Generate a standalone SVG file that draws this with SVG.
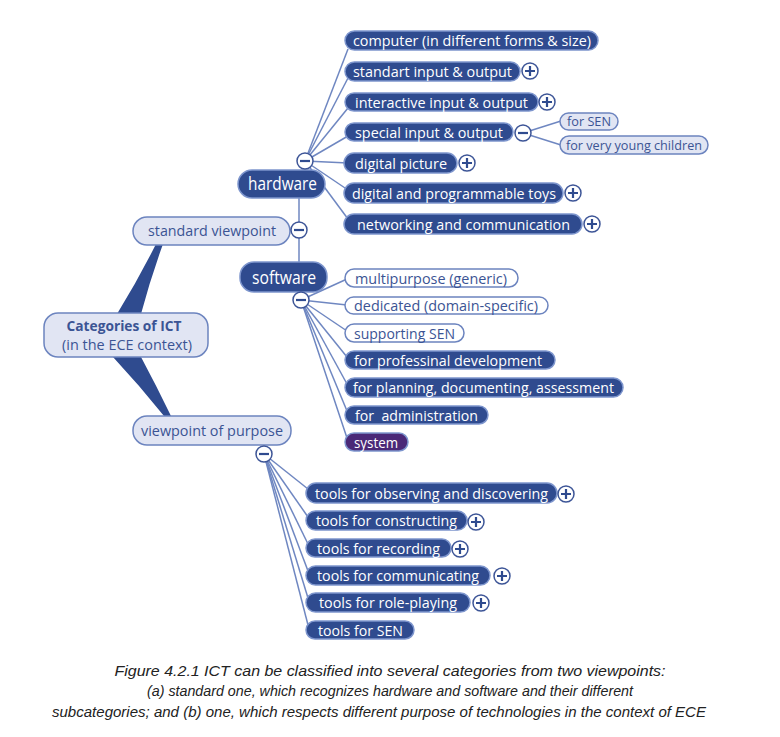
<svg xmlns="http://www.w3.org/2000/svg" width="780" height="737" viewBox="0 0 780 737">
<style>
text{font-family:"Open Sans","Noto Sans","Liberation Sans",sans-serif;}
.dk rect{fill:#2F4B8F;stroke:#7D95CD;stroke-width:1.5;}
.dk text{fill:#ffffff;font-size:15px;}
.lt rect{fill:#E1E5F3;stroke:#6C84BF;stroke-width:1.5;}
.lt text{fill:#3B5494;font-size:15px;}
.wh rect{fill:#ffffff;stroke:#6C84BF;stroke-width:1.5;}
.wh text{fill:#3B5494;font-size:15px;}
.pu rect{fill:#4A2877;stroke:#7D95CD;stroke-width:1.5;}
.pu text{fill:#ffffff;font-size:15px;}
.dk.big text{font-size:18px;}
.con line{stroke:#6F87C1;stroke-width:1.5;fill:none;}
.wedge{fill:#2F4B8F;}
.tgc{fill:#ffffff;stroke:#3D5597;stroke-width:1.5;}
.tgp{stroke:#2F4B8F;stroke-width:2.2;fill:none;}
.cap{font-family:"Liberation Sans",sans-serif;font-style:italic;font-size:14px;fill:#222222;}
</style>
<defs>
<g id="plus"><circle class="tgc" r="8"/><path class="tgp" d="M-5,0H5M0,-5V5"/></g>
<g id="minus"><circle class="tgc" r="8"/><path class="tgp" d="M-5,0H5"/></g>
</defs>
<rect width="780" height="737" fill="#ffffff"/>
<g id="connectors" class="con">
<path class="wedge" d="M117,314 Q138,280 156,244 L163,244 Q150,280 141,314 Z"/>
<path class="wedge" d="M113,357 L141,357 Q156,385 171,416 L164,416 Q140,386 113,357 Z"/>
<line x1="299" y1="197" x2="299" y2="263"/>
<line x1="305" y1="161" x2="348" y2="49"/>
<line x1="305" y1="161" x2="348" y2="78"/>
<line x1="305" y1="161" x2="348" y2="108"/>
<line x1="305" y1="161" x2="348" y2="136"/>
<line x1="305" y1="161" x2="348" y2="163"/>
<line x1="305" y1="161" x2="348" y2="190"/>
<line x1="305" y1="161" x2="348" y2="219"/>
<line x1="523" y1="133" x2="561" y2="121"/>
<line x1="523" y1="133" x2="561" y2="145"/>
<line x1="301" y1="300" x2="347" y2="279"/>
<line x1="301" y1="300" x2="347" y2="305"/>
<line x1="301" y1="300" x2="347" y2="331"/>
<line x1="301" y1="300" x2="347" y2="357"/>
<line x1="301" y1="300" x2="347" y2="384"/>
<line x1="301" y1="300" x2="347" y2="411"/>
<line x1="301" y1="300" x2="347" y2="438"/>
<line x1="264" y1="454" x2="308" y2="489"/>
<line x1="264" y1="454" x2="308" y2="517"/>
<line x1="264" y1="454" x2="308" y2="544"/>
<line x1="264" y1="454" x2="308" y2="571"/>
<line x1="264" y1="454" x2="308" y2="598"/>
<line x1="264" y1="454" x2="308" y2="625"/>
</g>
<g id="root" class="lt"><rect x="44" y="313" width="164" height="44" rx="14"/>
<text x="124" y="331" text-anchor="middle" font-weight="bold" textLength="115" lengthAdjust="spacingAndGlyphs">Categories of ICT</text>
<text x="127" y="350" text-anchor="middle" textLength="130" lengthAdjust="spacingAndGlyphs">(in the ECE context)</text></g>
<g id="standard" class="lt"><rect x="133" y="217" width="157" height="28" rx="14"/><text x="148" y="236" textLength="128" lengthAdjust="spacingAndGlyphs">standard viewpoint</text></g>
<g id="purpose" class="lt"><rect x="133" y="416" width="158" height="29" rx="14"/><text x="141" y="435.5" textLength="142" lengthAdjust="spacingAndGlyphs">viewpoint of purpose</text></g>
<g id="hardware" class="dk big"><rect x="238" y="170" width="87" height="28" rx="14"/><text x="248" y="190" textLength="69" lengthAdjust="spacingAndGlyphs">hardware</text></g>
<g id="software" class="dk big"><rect x="240" y="262" width="87" height="30" rx="14"/><text x="252" y="283.5" textLength="64" lengthAdjust="spacingAndGlyphs">software</text></g>
<g id="computer" class="dk"><rect x="345" y="31" width="253" height="19" rx="9.5"/><text x="353" y="45.5" textLength="238" lengthAdjust="spacingAndGlyphs">computer (in different forms &amp; size)</text></g>
<g id="standart" class="dk"><rect x="345" y="62" width="175" height="19" rx="9.5"/><text x="353" y="76.5" textLength="159" lengthAdjust="spacingAndGlyphs">standart input &amp; output</text></g>
<g id="interactive" class="dk"><rect x="345" y="93" width="193" height="18" rx="9"/><text x="355" y="107.5" textLength="173" lengthAdjust="spacingAndGlyphs">interactive input &amp; output</text></g>
<g id="special" class="dk"><rect x="345" y="123" width="168" height="18" rx="9"/><text x="355" y="137.5" textLength="148" lengthAdjust="spacingAndGlyphs">special input &amp; output</text></g>
<g id="forsen" class="lt"><rect x="560" y="113" width="58" height="17" rx="8.5"/><text x="567" y="126" style="font-size:13.5px" textLength="44" lengthAdjust="spacingAndGlyphs">for SEN</text></g>
<g id="young" class="lt"><rect x="560" y="136" width="148" height="18" rx="9"/><text x="566" y="149.5" style="font-size:13.5px" textLength="136" lengthAdjust="spacingAndGlyphs">for very young children</text></g>
<g id="picture" class="dk"><rect x="344" y="153" width="113" height="20" rx="10"/><text x="355" y="168.5" textLength="92" lengthAdjust="spacingAndGlyphs">digital picture</text></g>
<g id="toys" class="dk"><rect x="344" y="183" width="219" height="20" rx="10"/><text x="352" y="198.5" textLength="204" lengthAdjust="spacingAndGlyphs">digital and programmable toys</text></g>
<g id="networking" class="dk"><rect x="344" y="214" width="238" height="20" rx="10"/><text x="357" y="229.5" textLength="213" lengthAdjust="spacingAndGlyphs">networking and communication</text></g>
<g id="multipurpose" class="wh"><rect x="345" y="269" width="173" height="18" rx="9"/><text x="355" y="283.5" textLength="152" lengthAdjust="spacingAndGlyphs">multipurpose (generic)</text></g>
<g id="dedicated" class="wh"><rect x="345" y="297" width="203" height="17" rx="8.5"/><text x="354" y="311" textLength="184" lengthAdjust="spacingAndGlyphs">dedicated (domain-specific)</text></g>
<g id="supporting" class="wh"><rect x="345" y="324" width="119" height="18" rx="9"/><text x="354" y="338.5" textLength="101" lengthAdjust="spacingAndGlyphs">supporting SEN</text></g>
<g id="professinal" class="dk"><rect x="345" y="351" width="210" height="18" rx="9"/><text x="354" y="365.5" textLength="188" lengthAdjust="spacingAndGlyphs">for professinal development</text></g>
<g id="planning" class="dk"><rect x="345" y="378" width="278" height="19" rx="9.5"/><text x="353" y="393" textLength="261" lengthAdjust="spacingAndGlyphs">for planning, documenting, assessment</text></g>
<g id="administration" class="dk"><rect x="345" y="406" width="143" height="18" rx="9"/><text x="355" y="420.5" textLength="123" lengthAdjust="spacingAndGlyphs" xml:space="preserve">for  administration</text></g>
<g id="system" class="pu"><rect x="345" y="433" width="63" height="18" rx="9"/><text x="354" y="447.5" textLength="44" lengthAdjust="spacingAndGlyphs">system</text></g>
<g id="observing" class="dk"><rect x="306" y="483" width="251" height="20" rx="10"/><text x="315" y="498.5" textLength="233" lengthAdjust="spacingAndGlyphs">tools for observing and discovering</text></g>
<g id="constructing" class="dk"><rect x="306" y="511" width="161" height="19" rx="9.5"/><text x="316" y="526" textLength="141" lengthAdjust="spacingAndGlyphs">tools for constructing</text></g>
<g id="recording" class="dk"><rect x="306" y="539" width="145" height="18" rx="9"/><text x="317" y="553.5" textLength="123" lengthAdjust="spacingAndGlyphs">tools for recording</text></g>
<g id="communicating" class="dk"><rect x="306" y="566" width="184" height="19" rx="9.5"/><text x="317" y="581" textLength="162" lengthAdjust="spacingAndGlyphs">tools for communicating</text></g>
<g id="roleplaying" class="dk"><rect x="306" y="593" width="164" height="19" rx="9.5"/><text x="319" y="608" textLength="138" lengthAdjust="spacingAndGlyphs">tools for role-playing</text></g>
<g id="toolssen" class="dk"><rect x="306" y="621" width="108" height="18" rx="9"/><text x="318" y="635.5" textLength="85" lengthAdjust="spacingAndGlyphs">tools for SEN</text></g>
<g id="toggles">
<use href="#minus" x="305" y="161"/>
<use href="#minus" x="299" y="230"/>
<use href="#minus" x="301" y="300"/>
<use href="#minus" x="264" y="454"/>
<use href="#minus" x="523" y="133"/>
<use href="#plus" x="530" y="71"/>
<use href="#plus" x="547" y="102"/>
<use href="#plus" x="467" y="163"/>
<use href="#plus" x="573" y="193"/>
<use href="#plus" x="592" y="224"/>
<use href="#plus" x="566" y="494"/>
<use href="#plus" x="476" y="522"/>
<use href="#plus" x="460" y="549"/>
<use href="#plus" x="502" y="576"/>
<use href="#plus" x="481" y="603"/>
</g>
<g id="caption">
<text class="cap" x="390" y="676" text-anchor="middle" textLength="551" lengthAdjust="spacingAndGlyphs">Figure 4.2.1 ICT can be classified into several categories from two viewpoints:</text>
<text class="cap" x="390" y="696" text-anchor="middle" textLength="486" lengthAdjust="spacingAndGlyphs">(a) standard one, which recognizes hardware and software and their different</text>
<text class="cap" x="379" y="717" text-anchor="middle" textLength="654" lengthAdjust="spacingAndGlyphs">subcategories; and (b) one, which respects different purpose of technologies in the context of ECE</text>
</g>
</svg>
